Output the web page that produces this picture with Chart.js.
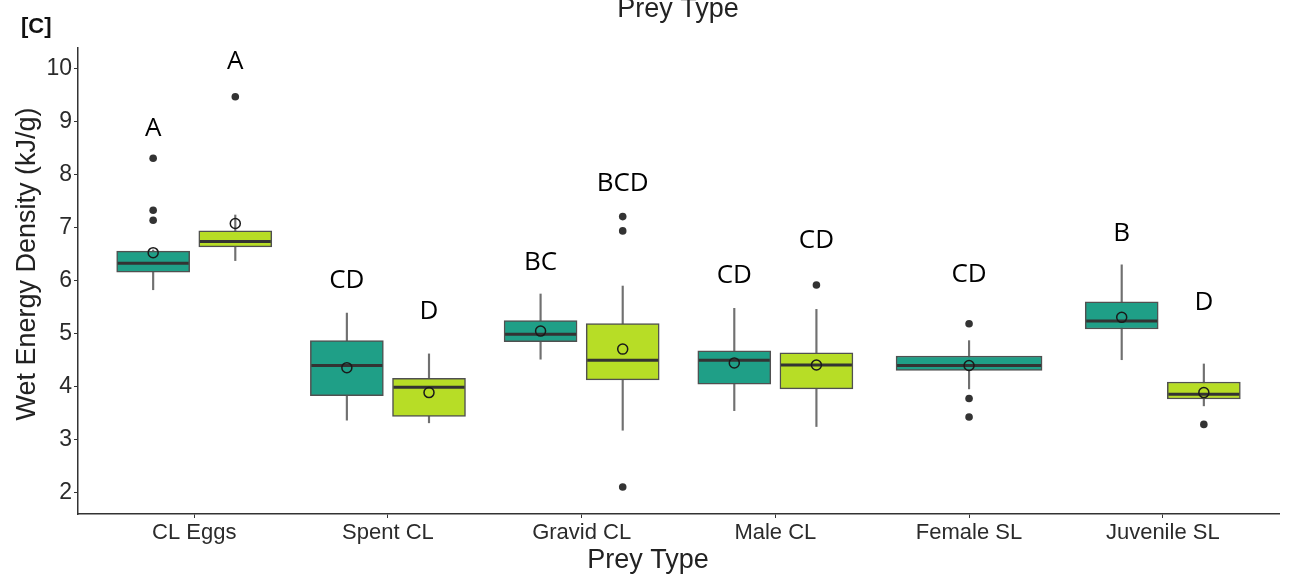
<!DOCTYPE html>
<html>
<head>
<meta charset="utf-8">
<script src="https://cdn.jsdelivr.net/npm/chart.js@4.4.1/dist/chart.umd.min.js"></script>
<style>
  body { margin: 0; background: #fff; }
  #wrap { width: 1290px; height: 584px; }
</style>
</head>
<body>
<div id="wrap"><canvas id="energyChart" width="1290" height="584"></canvas></div>
<script>
// data
const categories = ['CL Eggs', 'Spent CL', 'Gravid CL', 'Male CL', 'Female SL', 'Juvenile SL'];
const yTicks = [2, 3, 4, 5, 6, 7, 8, 9, 10];

// [lower whisker, q1, median, q3, upper whisker]
const tealBoxes = [
    [5.83, 6.16, 6.33, 6.56, 6.58],
    [3.37, 3.83, 4.40, 4.87, 5.39],
    [4.52, 4.85, 4.99, 5.25, 5.75],
    [3.55, 4.05, 4.50, 4.68, 5.48],
    [3.96, 4.31, 4.40, 4.58, 4.87],
    [4.51, 5.09, 5.24, 5.60, 6.30]
];
const yellowBoxes = [
    [6.38, 6.64, 6.74, 6.94, 7.24],
    [3.32, 3.44, 3.99, 4.16, 4.62],
    [3.18, 4.13, 4.50, 5.19, 5.90],
    [3.25, 3.96, 4.41, 4.64, 5.46],
    null,
    [3.64, 3.77, 3.86, 4.09, 4.43]
];
const tealMeans = [6.53, 4.36, 5.05, 4.45, 4.40, 5.31];
const yellowMeans = [7.08, 3.89, 4.71, 4.41, null, 3.89];
const tealOutliers = [[8.31, 7.33, 7.14], [], [], [], [5.19, 3.78, 3.43], []];
const yellowOutliers = [[9.47], [], [7.21, 6.94, 2.11], [5.92], [], [3.29]];
const tealLetters = ['A', 'CD', 'BC', 'CD', 'CD', 'B'];
const tealLetterY = [8.90, 6.03, 6.38, 6.12, 6.14, 6.91];
const yellowLetters = ['A', 'D', 'BCD', 'CD', null, 'D'];
const yellowLetterY = [10.16, 5.44, 7.87, 6.78, null, 5.61];

// look
const TEAL = '#1f9f87';
const YELLOW = '#b7dd26';
const FONT = "'Liberation Sans', Arial, sans-serif";
const dodge = 0.212;
const pairWidth = 73;
const singleWidth = 146;

// box centre on the numeric x axis
function xPos(i, series) {
    if (!yellowBoxes[i]) return i + 1;
    return i + 1 + (series === 'teal' ? -dodge : dodge);
}

const whiskerData = [];
const tealPair = [], tealSingle = [], yellowPair = [];
const medianData = [], medianRadius = [];
const meanData = [];
const outlierData = [];

categories.forEach((c, i) => {
    const t = tealBoxes[i];
    const tx = xPos(i, 'teal');
    whiskerData.push({ x: tx, y: [t[0], t[4]] });
    (yellowBoxes[i] ? tealPair : tealSingle).push({ x: tx, y: [t[1], t[3]] });
    medianData.push({ x: tx, y: t[2] });
    medianRadius.push((yellowBoxes[i] ? pairWidth : singleWidth) / 2 - 1);
    meanData.push({ x: tx, y: tealMeans[i] });
    tealOutliers[i].forEach(v => outlierData.push({ x: tx, y: v }));

    const b = yellowBoxes[i];
    if (b) {
        const yx = xPos(i, 'yellow');
        whiskerData.push({ x: yx, y: [b[0], b[4]] });
        yellowPair.push({ x: yx, y: [b[1], b[3]] });
        medianData.push({ x: yx, y: b[2] });
        medianRadius.push(pairWidth / 2 - 1);
        meanData.push({ x: yx, y: yellowMeans[i] });
        yellowOutliers[i].forEach(v => outlierData.push({ x: yx, y: v }));
    }
});

const boxStyle = {
    type: 'bar',
    grouped: false,
    borderColor: '#505050',
    borderWidth: 1.5,
    borderSkipped: false,
    order: 5
};

// texts: panel tag, titles, letter groups
const textPlugin = {
    id: 'texts',
    afterDraw(chart) {
        const ctx = chart.ctx;
        const xs = chart.scales.x, ys = chart.scales.y;
        ctx.save();
        ctx.fillStyle = '#111';
        ctx.font = 'bold 22px ' + FONT;
        ctx.textAlign = 'left';
        ctx.textBaseline = 'alphabetic';
        ctx.fillText('[C]', 21, 33);

        ctx.fillStyle = '#222';
        ctx.font = '27px ' + FONT;
        ctx.textAlign = 'center';
        ctx.fillText('Prey Type', 678, 17);
        ctx.fillText('Prey Type', 648, 568);

        ctx.save();
        ctx.translate(35, 264);
        ctx.rotate(-Math.PI / 2);
        ctx.fillText('Wet Energy Density (kJ/g)', 0, 0);
        ctx.restore();

        ctx.fillStyle = '#000';
        ctx.font = "26px 'Open Sans', sans-serif";
        categories.forEach((c, i) => {
            ctx.fillText(tealLetters[i], xs.getPixelForValue(xPos(i, 'teal')), ys.getPixelForValue(tealLetterY[i]) + 9);
            if (yellowLetters[i]) {
                ctx.fillText(yellowLetters[i], xs.getPixelForValue(xPos(i, 'yellow')), ys.getPixelForValue(yellowLetterY[i]) + 9);
            }
        });
        ctx.restore();
    }
};

function noPad(s) {
    s.paddingLeft = 0;
    s.paddingRight = 0;
    s.paddingTop = 0;
    s.paddingBottom = 0;
}

const ctx = document.getElementById('energyChart').getContext('2d');
const energyChart = new Chart(ctx, {
    type: 'bar',
    data: {
        datasets: [
            { type: 'bar', grouped: false, data: whiskerData, barThickness: 1.5, backgroundColor: '#707070', borderWidth: 0, order: 10 },
            Object.assign({}, boxStyle, { data: tealPair, barThickness: pairWidth, backgroundColor: TEAL }),
            Object.assign({}, boxStyle, { data: tealSingle, barThickness: singleWidth, backgroundColor: TEAL }),
            Object.assign({}, boxStyle, { data: yellowPair, barThickness: pairWidth, backgroundColor: YELLOW }),
            {
                type: 'scatter', data: medianData, pointStyle: 'line', pointRadius: medianRadius,
                pointBorderColor: '#333', pointBorderWidth: 3, order: 3
            },
            {
                type: 'scatter', data: outlierData, pointStyle: 'circle', pointRadius: 3.8,
                pointBackgroundColor: '#333', pointBorderColor: '#333', pointBorderWidth: 0, order: 2
            },
            {
                type: 'scatter', data: meanData, pointStyle: 'circle', pointRadius: 5,
                pointBackgroundColor: 'rgba(0,0,0,0)', pointBorderColor: '#1a1a1a', pointBorderWidth: 1.5, order: 1
            }
        ]
    },
    options: {
        responsive: false,
        animation: false,
        events: [],
        layout: { autoPadding: false, padding: { top: 48, right: 11, left: 0, bottom: 0 } },
        plugins: {
            legend: { display: false },
            tooltip: { enabled: false }
        },
        scales: {
            x: {
                type: 'linear',
                min: 0.4,
                max: 6.6,
                offset: false,
                grid: { drawOnChartArea: false, offset: false, tickLength: 4, color: '#333' },
                border: { color: '#333', width: 1.5 },
                ticks: {
                    font: { family: FONT, size: 22 },
                    color: '#2b2b2b',
                    padding: 2,
                    maxRotation: 0,
                    autoSkip: false,
                    callback: v => categories[v - 1] || ''
                },
                afterBuildTicks: s => { s.ticks = categories.map((c, i) => ({ value: i + 1 })); },
                afterFit: s => { s.height = 70; noPad(s); }
            },
            y: {
                type: 'linear',
                min: 1.6,
                max: 10.39,
                beginAtZero: false,
                grid: { drawOnChartArea: false, tickLength: 4, color: '#333' },
                border: { color: '#333', width: 1.5 },
                ticks: {
                    font: { family: FONT, size: 23 },
                    color: '#2b2b2b',
                    padding: 2
                },
                afterBuildTicks: s => { s.ticks = yTicks.map(v => ({ value: v })); },
                afterFit: s => { s.width = 78; noPad(s); }
            }
        }
    },
    plugins: [textPlugin]
});
</script>
</body>
</html>
